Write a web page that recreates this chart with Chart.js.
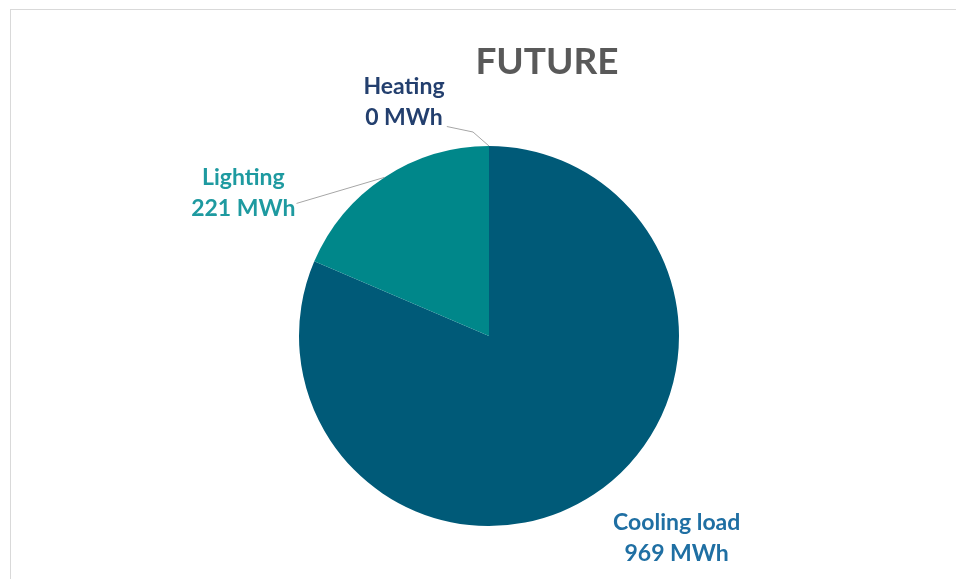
<!DOCTYPE html>
<html>
<head>
<meta charset="utf-8">
<script src="https://cdn.jsdelivr.net/npm/chart.js@4"></script>
<style>
  html, body { margin: 0; padding: 0; background: #fff; overflow: hidden; }
  #marco { position: absolute; left: 10px; top: 9px; width: 980px; height: 600px; border: 1px solid #d9d9d9; box-sizing: border-box; }
  #grafico { position: absolute; left: 0; top: 0; }
</style>
</head>
<body>
<div id="marco"></div>
<canvas id="grafico" width="956" height="579"></canvas>
<script>
const categorias = ["Cooling load", "Lighting", "Heating"]
const valores = [969, 221, 0]
const unidad = "MWh"
const colores = ["#005a78", "#00878a", "#1f3864"]
const coloresTexto = ["#1f6fa3", "#1e9aa0", "#233f6e"]

// desplazamiento de cada etiqueta respecto al borde de su sector
const offsetEtiquetas = [
  { dx: 83, dy: 43.5, linea: false },
  { dx: -141, dy: 16, linea: true },
  { dx: -85, dy: -43.5, linea: true }
]

const fuente = "Lato, 'Open Sans', sans-serif"

const etiquetas = {
  id: "etiquetas",
  afterDatasetsDraw(chart) {
    const ctx = chart.ctx
    const arcos = chart.getDatasetMeta(0).data
    ctx.save()

    // titulo
    ctx.fillStyle = "#595959"
    ctx.font = "bold 37px " + fuente
    ctx.textAlign = "center"
    ctx.textBaseline = "middle"
    ctx.fillText("FUTURE", 547, 62)

    arcos.forEach((arco, i) => {
      const p = arco.getProps(["x", "y", "startAngle", "endAngle", "outerRadius"], true)
      const medio = (p.startAngle + p.endAngle) / 2
      const ax = p.x + Math.cos(medio) * p.outerRadius
      const ay = p.y + Math.sin(medio) * p.outerRadius
      const off = offsetEtiquetas[i]
      const cx = ax + off.dx
      const cy = ay + off.dy
      const linea1 = categorias[i]
      const linea2 = valores[i] + " " + unidad

      ctx.font = "bold 23px " + fuente
      const ancho2 = ctx.measureText(linea2).width

      if (off.linea) {
        ctx.strokeStyle = "#a6a6a6"
        ctx.lineWidth = 1
        ctx.beginPath()
        ctx.moveTo(ax, ay)
        if (valores[i] === 0) {
          ctx.lineTo(ax - 16, ay - 14)
          ctx.lineTo(cx + ancho2 / 2 + 4, cy + 24)
        } else {
          ctx.lineTo(cx + ancho2 / 2 + 1, cy + 10)
        }
        ctx.stroke()
      }

      ctx.fillStyle = coloresTexto[i]
      ctx.textAlign = "center"
      ctx.textBaseline = "middle"
      ctx.fillText(linea1, cx, cy - 15.5)
      ctx.fillText(linea2, cx, cy + 15.5)
    })
    ctx.restore()
  }
}

new Chart(document.getElementById("grafico"), {
  type: "pie",
  data: {
    labels: categorias,
    datasets: [{
      data: valores,
      backgroundColor: colores,
      borderWidth: 0
    }]
  },
  options: {
    responsive: false,
    animation: false,
    layout: { padding: { top: 146, bottom: 53, left: 299, right: 277 } },
    plugins: {
      legend: { display: false },
      tooltip: { enabled: false }
    }
  },
  plugins: [etiquetas]
})
</script>
</body>
</html>
